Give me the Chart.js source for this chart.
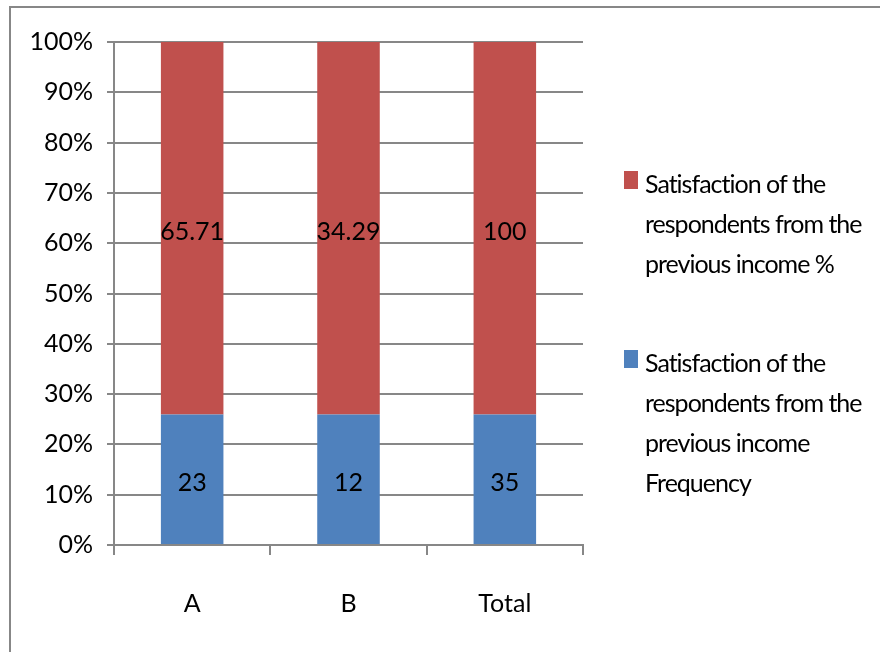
<!DOCTYPE html>
<html>
<head>
<meta charset="utf-8">
<script src="https://cdn.jsdelivr.net/npm/chart.js@4"></script>
<style>
  html, body { margin: 0; padding: 0; background: #fff; }
  #wrap { width: 880px; height: 652px; }
</style>
</head>
<body>
<div id="wrap"><canvas id="grafico" width="880" height="652"></canvas></div>
<script>
// dados
var categorias = ['A', 'B', 'Total'];
var frequencia = [23, 12, 35];
var percentual = [65.71, 34.29, 100];
var nomeFreq = ['Satisfaction of the', 'respondents from the', 'previous income', 'Frequency'];
var nomePct = ['Satisfaction of the', 'respondents from the', 'previous income %'];
var ticksY = [0, 10, 20, 30, 40, 50, 60, 70, 80, 90, 100];

var corVermelho = '#C0504D';
var corAzul = '#4F81BD';
var corGrade = '#878787';
var fonte = "Lato, 'Open Sans', sans-serif";

// 100% empilhado: cada barra vira a parte de freq + pct
var parteFreq = new Array(categorias.length);
var partePct = new Array(categorias.length);
for (i = 0; i < categorias.length; i++) {
  var soma = frequencia[i] + percentual[i];
  parteFreq[i] = frequencia[i] / soma * 100;
  partePct[i] = percentual[i] / soma * 100;
}

var fundo = {
  id: 'fundo',
  beforeDraw: function (chart) {
    var ctx = chart.ctx;
    ctx.save();
    ctx.fillStyle = '#fff';
    ctx.fillRect(0, 0, chart.width, chart.height);
    ctx.strokeStyle = corGrade;
    ctx.lineWidth = 2;
    ctx.strokeRect(10, 7, chart.width + 20, chart.height + 20);
    ctx.restore();
  }
};

var rotulos = {
  id: 'rotulos',
  afterDatasetsDraw: function (chart) {
    var ctx = chart.ctx;
    var brutos = [frequencia, percentual];
    ctx.save();
    ctx.font = '25px ' + fonte;
    ctx.fillStyle = '#000';
    ctx.textAlign = 'center';
    ctx.textBaseline = 'middle';
    chart.data.datasets.forEach(function (ds, d) {
      chart.getDatasetMeta(d).data.forEach(function (bar, j) {
        var meio = (bar.y + bar.base) / 2;
        ctx.fillText(String(brutos[d][j]), bar.x, meio + 4);
      });
    });
    ctx.restore();
  }
};

var legenda = {
  id: 'legenda',
  afterDraw: function (chart) {
    var ctx = chart.ctx;
    var itens = [
      { texto: nomePct, cor: corVermelho, topo: 183 },
      { texto: nomeFreq, cor: corAzul, topo: 362 }
    ];
    ctx.save();
    ctx.font = '25px ' + fonte;
    ctx.letterSpacing = '-1px';
    ctx.textBaseline = 'middle';
    ctx.textAlign = 'left';
    itens.forEach(function (it) {
      ctx.fillStyle = it.cor;
      ctx.fillRect(624, it.topo - 12, 14, 18);
      ctx.fillStyle = '#000';
      it.texto.forEach(function (linha, k) {
        ctx.fillText(linha, 645, it.topo + 2 + k * 40);
      });
    });
    ctx.restore();
  }
};

var ctx = document.getElementById('grafico').getContext('2d');
var chart = new Chart(ctx, {
  type: 'bar',
  data: {
    labels: categorias,
    datasets: [
      {
        label: nomeFreq.join(' '),
        data: parteFreq,
        backgroundColor: corAzul,
        categoryPercentage: 1,
        barPercentage: 0.4
      },
      {
        label: nomePct.join(' '),
        data: partePct,
        backgroundColor: corVermelho,
        categoryPercentage: 1,
        barPercentage: 0.4
      }
    ]
  },
  options: {
    responsive: false,
    animation: false,
    layout: { padding: { top: 42, right: 297, left: 0, bottom: 0 } },
    plugins: {
      legend: { display: false },
      tooltip: { enabled: false }
    },
    scales: {
      x: {
        stacked: true,
        afterFit: function (s) { s.height = 107; },
        grid: { drawOnChartArea: false, drawTicks: true, tickLength: 10, color: corGrade, lineWidth: 2 },
        border: { color: corGrade, width: 2 },
        ticks: { color: '#000', padding: 34, font: { family: fonte, size: 25 } }
      },
      y: {
        stacked: true,
        min: 0,
        max: 100,
        afterFit: function (s) { s.width = 114; },
        afterBuildTicks: function (s) { s.ticks = ticksY.map(function (v) { return { value: v }; }); },
        grid: { color: corGrade, lineWidth: 2, tickLength: 7 },
        border: { color: corGrade, width: 2 },
        ticks: {
          color: '#000',
          padding: 14,
          font: { family: fonte, size: 25 },
          callback: function (v) { return v + '%'; }
        }
      }
    }
  },
  plugins: [fundo, rotulos, legenda]
});
</script>
</body>
</html>
